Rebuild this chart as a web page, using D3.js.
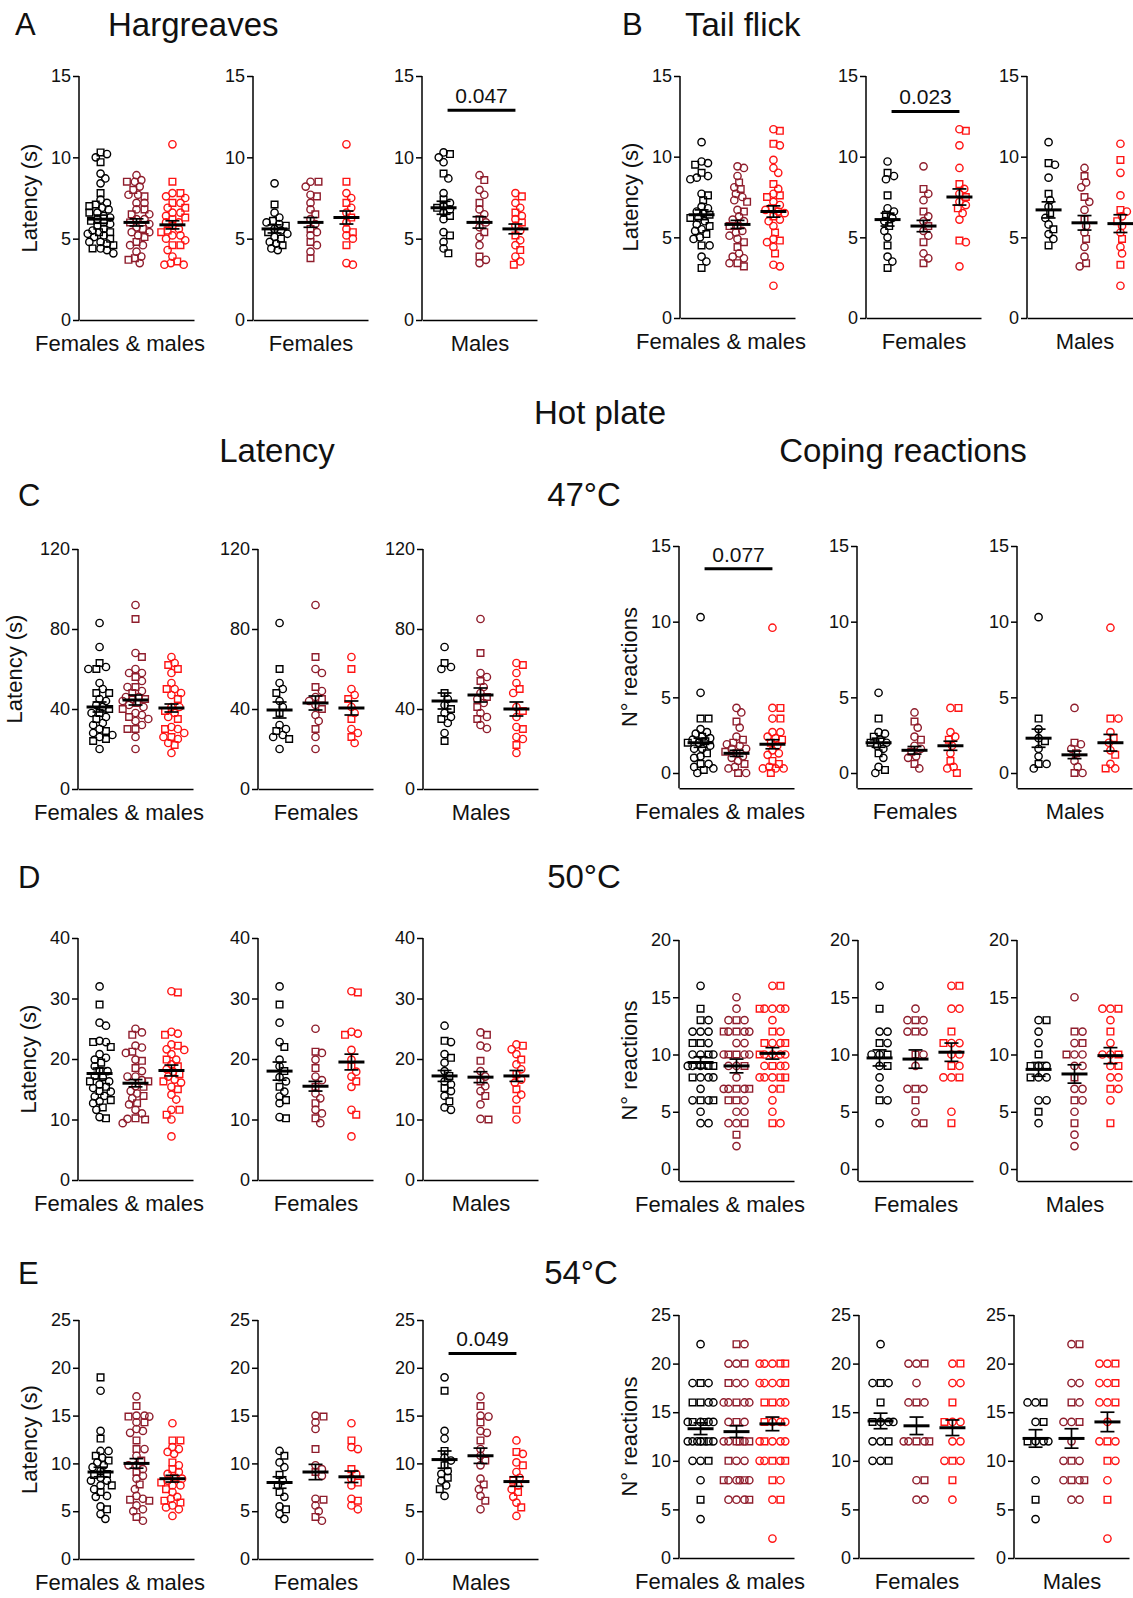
<!DOCTYPE html>
<html>
<head>
<meta charset="utf-8">
<script src="https://cdn.jsdelivr.net/npm/d3@7"></script>
<style>
  body { margin: 0; background: #fff; }
  text { font-family: "Liberation Sans", Arial, sans-serif; fill: #111; }
</style>
</head>
<body>
<svg id="fig" width="1133" height="1598"></svg>
<script>
// ---- group colours (three treatment groups) ----
const groupColors = ["#000000", "#8f1d2c", "#ff1414"];
const catLabels = ["Females & males", "Females", "Males"];

// ---- Hargreaves latency (s): [black, dark red, red] ----
const hargFem = [
  [8.4, 7.1, 6.6, 6.3, 6.1, 6.0, 5.9, 5.8, 5.6, 5.5, 5.4, 5.3, 5.1, 5.0, 4.8, 4.7, 4.6, 4.4, 4.3],
  [8.5, 8.5, 8.2, 7.7, 7.6, 7.2, 6.8, 6.5, 6.2, 5.9, 5.6, 5.4, 5.2, 4.8, 4.6, 4.2, 3.8],
  [10.8, 8.5, 7.8, 7.5, 7.2, 6.9, 6.6, 6.3, 6.0, 5.6, 5.4, 5.2, 5.0, 4.6, 3.5, 3.4]
];
const hargMale = [
  [10.3, 10.2, 10.0, 9.7, 9.0, 8.7, 7.8, 7.4, 7.2, 7.0, 6.9, 6.8, 6.6, 6.4, 6.2, 5.4, 5.2, 4.8, 4.4, 4.1],
  [8.9, 8.6, 8.0, 7.7, 7.2, 6.8, 6.5, 6.2, 6.0, 5.7, 5.4, 5.1, 4.6, 3.9, 3.7, 3.5],
  [7.8, 7.6, 7.2, 6.9, 6.6, 6.4, 6.2, 6.0, 5.8, 5.5, 5.2, 4.9, 4.6, 4.3, 3.9, 3.6, 3.4]
];
// rows: females & males, females, males
const hargMean = [[6.2, 6.0, 5.85], [5.6, 6.0, 6.3], [6.9, 6.0, 5.6]];
const hargSem  = [[0.25, 0.22, 0.25], [0.25, 0.3, 0.4], [0.4, 0.35, 0.3]];
const hargSig  = [2, 12.9, "0.047"];

// ---- Tail flick latency (s) ----
const tailFem = [
  [9.7, 9.0, 8.8, 8.6, 7.6, 6.8, 6.6, 6.4, 6.2, 6.0, 5.7, 5.4, 5.0, 4.5, 3.8, 3.5, 3.1],
  [9.4, 8.0, 7.7, 7.3, 6.6, 6.3, 6.0, 5.7, 5.4, 5.1, 4.7, 4.0, 3.7, 3.4],
  [11.7, 11.6, 10.7, 9.3, 8.3, 8.0, 7.7, 7.5, 7.2, 7.0, 6.8, 6.5, 6.1, 4.8, 4.7, 3.2]
];
const tailMale = [
  [10.9, 9.6, 9.5, 8.7, 7.7, 7.3, 6.9, 6.5, 6.2, 5.8, 5.5, 5.2, 4.9, 4.5],
  [9.3, 8.8, 8.4, 8.1, 7.5, 7.2, 6.7, 6.1, 5.7, 5.3, 4.9, 4.4, 3.8, 3.4, 3.2],
  [10.8, 9.8, 9.0, 7.6, 6.7, 6.6, 6.3, 6.0, 5.7, 5.3, 4.9, 4.4, 4.0, 3.3, 2.0]
];
const tailMean = [[6.4, 5.8, 6.6], [6.1, 5.7, 7.5], [6.7, 5.9, 5.85]];
const tailSem  = [[0.3, 0.25, 0.35], [0.4, 0.35, 0.5], [0.5, 0.45, 0.55]];
const tailSig  = [1, 12.8, "0.023"];

// ---- Hot plate 47 °C: latency (s) ----
const lat47Fem = [
  [83, 60, 53, 50, 48, 44, 41, 38, 32, 30, 29, 27, 26, 25, 20],
  [92, 66, 60, 58, 51, 49, 46, 45, 44, 42, 40, 37, 34, 30, 26, 20],
  [66, 60, 50, 47, 45, 41, 38, 35, 30, 28, 26, 23]
];
const lat47Male = [
  [71, 63, 61, 60, 48, 45, 42, 40, 38, 36, 35, 33, 28, 24],
  [85, 68, 58, 56, 54, 51, 48, 46, 45, 43, 41, 38, 36, 35, 32, 30],
  [63, 62, 58, 53, 50, 48, 41, 39, 36, 31, 30, 26, 25, 22, 18]
];
const lat47Mean = [[41, 44.5, 40.5], [39.5, 43, 40.5], [44, 47, 40]];
const lat47Sem  = [[2.5, 2.5, 2], [4, 3.5, 3.5], [4, 3.5, 3.5]];

// ---- Hot plate 47 °C: coping reactions ----
const cop47Fem = [
  [5.3, 3.6, 2.7, 2.6, 2.4, 2.2, 2.0, 2.0, 1.8, 1.6, 1.3, 1.0, 0.4, 0.2, 0.0],
  [4.0, 3.4, 3.0, 2.4, 2.2, 1.8, 1.6, 1.4, 1.1, 1.0, 0.6, 0.3],
  [4.3, 4.3, 2.7, 2.4, 2.2, 1.8, 1.3, 0.8, 0.4, 0.3, 0.0]
];
const cop47Male = [
  [10.3, 3.6, 2.9, 2.3, 2.1, 1.6, 1.1, 0.6, 0.6, 0.3],
  [4.3, 2.0, 1.9, 1.6, 1.3, 0.8, 0.4, 0.0, 0.0],
  [9.6, 3.6, 3.6, 2.7, 2.3, 2.0, 1.5, 1.2, 0.6, 0.3, 0.3]
];
const cop47Mean = [[2.0, 1.3, 1.9], [2.0, 1.5, 1.8], [2.3, 1.2, 2.0]];
const cop47Sem  = [[0.3, 0.2, 0.3], [0.3, 0.25, 0.3], [0.6, 0.25, 0.55]];
const cop47Sig  = [0, 13.5, "0.077"];

// ---- Hot plate 50 °C: latency (s) ----
const lat50Fem = [
  [32, 29, 26, 22.8, 22, 19.9, 18.8, 18, 17, 16.3, 15.4, 14.6, 13.8, 13.2, 12.7, 10.4, 10.2],
  [25, 21.2, 21, 19.9, 18.5, 17.1, 16.5, 15.4, 14.3, 13.5, 12.7, 11.6, 11, 10.2, 9.4],
  [31.2, 31, 24.5, 24.2, 24, 21.5, 19.9, 18.8, 17.9, 17.1, 16.3, 15.4, 11.6, 10.8, 7.2]
];
const lat50Male = [
  [25.5, 23, 22.8, 20.8, 20.2, 19.4, 18, 17.2, 16.3, 15.8, 15.2, 14.7, 13.9, 13, 12, 11.6],
  [24.4, 24, 22.2, 21.9, 19.7, 18, 17.1, 16.3, 15.5, 14.7, 13.9, 12.5, 10.1, 10],
  [22.4, 22.2, 21.6, 20.8, 19.9, 19.1, 18.3, 17.5, 16.6, 16.1, 15, 14.1, 13.3, 11.6, 10]
];
const lat50Mean = [[17.6, 16.0, 18.1], [18, 15.5, 19.5], [17.2, 17.0, 17.2]];
const lat50Sem  = [[0.9, 0.6, 0.9], [1.5, 0.8, 1.3], [0.9, 0.9, 0.9]];

// ---- Hot plate 50 °C: coping reactions ----
const cop50Fem = [
  [16, 14, 12, 12, 11, 11, 10, 10, 10, 9, 9, 8, 7, 6, 6, 4],
  [14, 13, 13, 13, 12, 12, 12, 10, 10, 9, 7, 7, 7, 6, 5, 4, 4],
  [16, 16, 14, 14, 12, 11, 11, 11, 10, 10, 9, 9, 8, 8, 8, 5, 4]
];
const cop50Male = [
  [13, 13, 12, 11, 10, 9, 9, 9, 8, 8, 8, 6, 6, 5, 4],
  [15, 12, 12, 11, 11, 10, 10, 10, 9, 9, 8, 7, 7, 6, 6, 5, 4, 3, 2],
  [14, 14, 14, 13, 12, 11, 10, 10, 10, 9, 9, 8, 8, 7, 7, 6, 4]
];
const cop50Mean = [[9.3, 9.0, 10.1], [9.7, 9.6, 10.2], [8.7, 8.3, 9.9]];
const cop50Sem  = [[0.5, 0.6, 0.5], [0.7, 0.8, 0.8], [0.6, 0.8, 0.7]];

// ---- Hot plate 54 °C: latency (s) ----
const lat54Fem = [
  [11.3, 10.8, 10.1, 9.6, 8.8, 8.2, 7.7, 7.0, 6.5, 5.5, 5.2, 4.7, 4.2],
  [15, 14.9, 14.3, 13.6, 11.5, 9.8, 9.4, 9.1, 8.7, 6.3, 6.2, 5.6, 5.0, 4.4, 4.0],
  [14.2, 12.4, 11.7, 11.5, 9.4, 8.9, 8.4, 8.0, 7.7, 6.3, 6.1, 5.6, 5.2]
];
const lat54Male = [
  [19, 17.6, 13.4, 12.6, 11.3, 10.6, 10.3, 9.8, 9.2, 8.9, 8.5, 8.2, 7.7, 7.3, 6.6],
  [17, 16, 15, 14.9, 14.3, 13.4, 13.2, 12.4, 11.5, 10.8, 10.3, 9.8, 8.4, 7.8, 7.3, 6.6, 6.1, 5.2],
  [12.4, 11.2, 11, 10.1, 9.8, 9.1, 8.5, 8.2, 7.7, 7.3, 7.0, 6.5, 5.9, 5.4, 4.5]
];
const lat54Mean = [[9.1, 10.0, 8.4], [8.0, 9.1, 8.6], [10.4, 10.8, 8.1]];
const lat54Sem  = [[0.5, 0.5, 0.35], [0.6, 0.8, 0.6], [0.9, 0.8, 0.5]];
const lat54Sig  = [2, 21.5, "0.049"];

// ---- Hot plate 54 °C: coping reactions ----
const cop54Fem = [
  [22, 18, 18, 18, 16, 14, 14, 14, 14, 12, 12, 12, 10, 10, 10],
  [20, 20, 20, 18, 16, 16, 16, 12, 12, 12, 12, 12, 8, 8, 6, 6],
  [20, 20, 18, 18, 16, 14, 14, 14, 12, 12, 10, 10, 10, 8, 6]
];
const cop54Male = [
  [16, 16, 16, 14, 14, 12, 12, 12, 12, 8, 6, 4],
  [22, 22, 18, 18, 16, 16, 14, 14, 14, 12, 10, 10, 10, 8, 8, 8, 8, 6, 6],
  [20, 20, 20, 18, 18, 18, 16, 16, 16, 14, 12, 12, 12, 10, 10, 8, 6, 2]
];
const cop54Mean = [[13.3, 13.0, 13.8], [14.1, 13.6, 13.4], [12.3, 12.3, 14.0]];
const cop54Sem  = [[0.6, 0.6, 0.7], [0.8, 0.9, 0.8], [0.9, 1.0, 1.0]];

// ---- tick values ----
const ticks15  = [0, 5, 10, 15];
const ticks120 = [0, 40, 80, 120];
const ticks40  = [0, 10, 20, 30, 40];
const ticks20  = [0, 5, 10, 15, 20];
const ticks25  = [0, 5, 10, 15, 20, 25];

// ---- panel layout: one block of three panels per test ----
const blocks = [
  { fem: hargFem, male: hargMale, mean: hargMean, sem: hargSem, sig: hargSig,
    cols: [79, 253, 422], top: 76, zero: 320, dmin: 0, dmax: 15, ticks: ticks15, yTitle: "Latency (s)" },
  { fem: tailFem, male: tailMale, mean: tailMean, sem: tailSem, sig: tailSig,
    cols: [680, 866, 1027], top: 76, zero: 318, dmin: 0, dmax: 15, ticks: ticks15, yTitle: "Latency (s)" },
  { fem: lat47Fem, male: lat47Male, mean: lat47Mean, sem: lat47Sem,
    cols: [78, 258, 423], top: 549, zero: 789, dmin: 0, dmax: 120, ticks: ticks120, yTitle: "Latency (s)" },
  { fem: cop47Fem, male: cop47Male, mean: cop47Mean, sem: cop47Sem, sig: cop47Sig,
    cols: [679, 857, 1017], top: 546, zero: 773, dmin: -1, dmax: 15, ticks: ticks15, yTitle: "N° reactions" },
  { fem: lat50Fem, male: lat50Male, mean: lat50Mean, sem: lat50Sem,
    cols: [78, 258, 423], top: 938, zero: 1180, dmin: 0, dmax: 40, ticks: ticks40, yTitle: "Latency (s)" },
  { fem: cop50Fem, male: cop50Male, mean: cop50Mean, sem: cop50Sem,
    cols: [679, 858, 1017], top: 940, zero: 1169, dmin: -1.05, dmax: 20, ticks: ticks20, yTitle: "N° reactions" },
  { fem: lat54Fem, male: lat54Male, mean: lat54Mean, sem: lat54Sem, sig: lat54Sig,
    cols: [79, 258, 423], top: 1320, zero: 1559, dmin: 0, dmax: 25, ticks: ticks25, yTitle: "Latency (s)" },
  { fem: cop54Fem, male: cop54Male, mean: cop54Mean, sem: cop54Sem,
    cols: [679, 859, 1014], top: 1315, zero: 1558, dmin: 0, dmax: 25, ticks: ticks25, yTitle: "N° reactions" }
];

const svg = d3.select("#fig");
const AXIS_LEN = 115;
const R = 3.7;

// simple deterministic beeswarm: each point takes the nearest free horizontal slot
function swarm(vals, y, r, maxOff) {
  const pts = vals.map((v, i) => ({ v, i, py: y(v) }))
    .sort((a, b) => a.py - b.py || a.i - b.i);
  const placed = [];
  const step = 1.6, minD = 1.75 * r;
  const cands = [0];
  for (let k = 1; k * step <= maxOff; k++) cands.push(k * step, -k * step);
  pts.forEach(p => {
    let best = 0, bestScore = -1;
    for (const c of cands) {
      let md = Infinity;
      for (const q of placed) {
        const dy = q.py - p.py;
        if (Math.abs(dy) >= minD) continue;
        md = Math.min(md, Math.hypot(q.dx - c, dy));
      }
      if (md >= minD) { best = c; bestScore = md; break; }
      if (md > bestScore) { bestScore = md; best = c; }
    }
    p.dx = best;
    placed.push(p);
  });
  return pts;
}

function drawPanel(b, k) {
  const x0 = b.cols[k];
  const yLin = d3.scaleLinear().domain([0, b.dmax]).range([b.zero, b.top]);
  const y = d3.scaleLinear().domain([b.dmin, b.dmax]).range([yLin(b.dmin), b.top]);
  const yBottom = y(b.dmin);
  const gx = d3.scalePoint().domain([0, 1, 2]).range([x0, x0 + AXIS_LEN]).padding(0.6);
  const g = svg.append("g");

  // axes
  const ya = g.append("g").attr("transform", `translate(${x0},0)`)
    .call(d3.axisLeft(y).tickValues(b.ticks).tickSize(6).tickSizeOuter(0).tickPadding(2));
  ya.selectAll("path,line").attr("stroke", "#000").attr("stroke-width", 1.5);
  ya.selectAll("text").style("font-size", "18px").attr("fill", "#1a1a1a");
  ya.select(".domain").attr("d", `M0,${b.top}V${yBottom}`);

  const xs = d3.scaleLinear().domain([0, 1]).range([x0, x0 + AXIS_LEN]);
  const xa = g.append("g").attr("transform", `translate(0,${yBottom})`)
    .call(d3.axisBottom(xs).tickValues([]).tickSizeOuter(0));
  xa.select(".domain").attr("stroke", "#000").attr("stroke-width", 1.5);

  // points
  for (let gi = 0; gi < 3; gi++) {
    const vals = k === 0 ? b.fem[gi].concat(b.male[gi]) : (k === 1 ? b.fem[gi] : b.male[gi]);
    const pts = swarm(vals, y, R, 14);
    const cx = gx(gi);
    g.append("g").selectAll("path").data(pts).join("path")
      .attr("d", d => d3.symbol().type(d.i % 3 === 1 ? d3.symbolSquare : d3.symbolCircle)
        .size(d.i % 3 === 1 ? 44 : 42)())
      .attr("transform", d => `translate(${cx + d.dx},${d.py})`)
      .attr("fill", "none")
      .attr("stroke", groupColors[gi])
      .attr("stroke-width", 1.4);
  }

  // mean ± SEM
  for (let gi = 0; gi < 3; gi++) {
    const cx = gx(gi), m = b.mean[k][gi], s = b.sem[k][gi];
    const eg = g.append("g").attr("stroke", "#000");
    eg.append("line").attr("x1", cx).attr("x2", cx).attr("y1", y(m + s)).attr("y2", y(m - s)).attr("stroke-width", 1.7);
    eg.append("line").attr("x1", cx - 7).attr("x2", cx + 7).attr("y1", y(m + s)).attr("y2", y(m + s)).attr("stroke-width", 1.7);
    eg.append("line").attr("x1", cx - 7).attr("x2", cx + 7).attr("y1", y(m - s)).attr("y2", y(m - s)).attr("stroke-width", 1.7);
    eg.append("line").attr("x1", cx - 13).attr("x2", cx + 13).attr("y1", y(m)).attr("y2", y(m)).attr("stroke-width", 3);
  }

  // significance bar
  if (b.sig && b.sig[0] === k) {
    const ly = y(b.sig[1]);
    const xa1 = gx(0) + 4, xa2 = gx(2);
    g.append("line").attr("x1", xa1).attr("x2", xa2).attr("y1", ly).attr("y2", ly)
      .attr("stroke", "#000").attr("stroke-width", 3);
    g.append("text").attr("x", (xa1 + xa2) / 2).attr("y", ly - 7)
      .attr("text-anchor", "middle").style("font-size", "21px").text(b.sig[2]);
  }

  // category label
  g.append("text")
    .attr("x", k === 0 ? x0 + 41 : x0 + 58)
    .attr("y", yBottom + 31)
    .attr("text-anchor", "middle").style("font-size", "22px")
    .text(catLabels[k]);

  // y title on first panel of the block
  if (k === 0) {
    const digits = String(d3.max(b.ticks)).length;
    const tx = x0 - (22 + 14 * digits);
    const ty = (b.top + yBottom) / 2;
    g.append("text").attr("transform", `translate(${tx},${ty}) rotate(-90)`)
      .attr("text-anchor", "middle").attr("dy", "0.35em").style("font-size", "22px")
      .text(b.yTitle);
  }
}

blocks.forEach(b => [0, 1, 2].forEach(k => drawPanel(b, k)));

// ---- headings ----
const headings = [
  { t: "A", x: 15, y: 35, a: "start", s: 31 },
  { t: "Hargreaves", x: 108, y: 36, a: "start", s: 33 },
  { t: "B", x: 622, y: 35, a: "start", s: 31 },
  { t: "Tail flick", x: 685, y: 36, a: "start", s: 33 },
  { t: "Hot plate", x: 600, y: 424, a: "middle", s: 33 },
  { t: "Latency", x: 277, y: 462, a: "middle", s: 33 },
  { t: "Coping reactions", x: 903, y: 462, a: "middle", s: 33 },
  { t: "C", x: 18, y: 506, a: "start", s: 31 },
  { t: "47°C", x: 584, y: 506, a: "middle", s: 33 },
  { t: "D", x: 18, y: 888, a: "start", s: 31 },
  { t: "50°C", x: 584, y: 888, a: "middle", s: 33 },
  { t: "E", x: 18, y: 1284, a: "start", s: 31 },
  { t: "54°C", x: 581, y: 1284, a: "middle", s: 33 }
];
svg.append("g").selectAll("text").data(headings).join("text")
  .attr("x", d => d.x).attr("y", d => d.y)
  .attr("text-anchor", d => d.a)
  .style("font-size", d => d.s + "px")
  .text(d => d.t);
</script>
</body>
</html>
